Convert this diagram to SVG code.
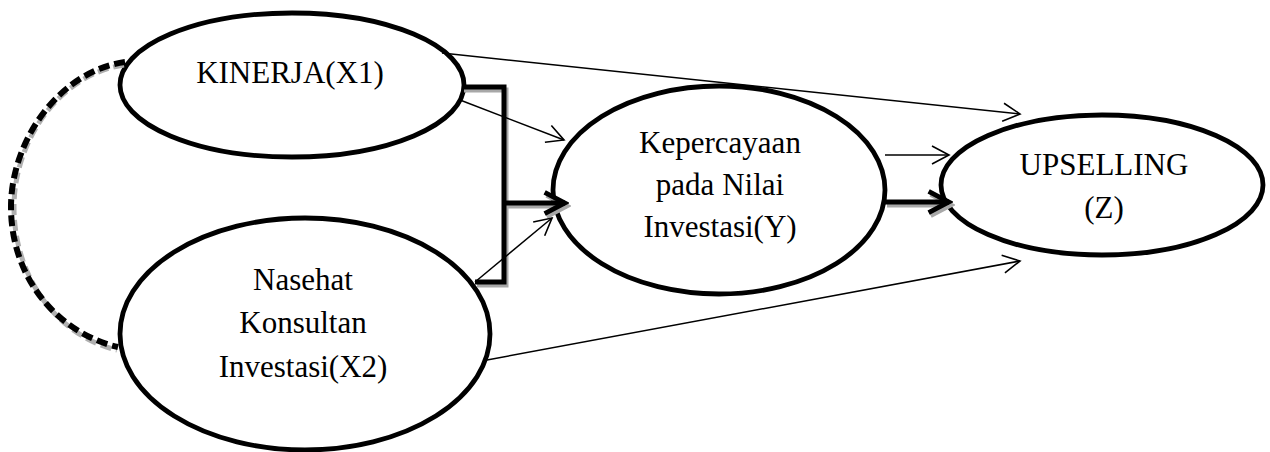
<svg xmlns="http://www.w3.org/2000/svg" width="1270" height="452" viewBox="0 0 1270 452">
<style>
.node{fill:#fff;stroke:#000;stroke-width:4.8}
.lbl{font-family:"Liberation Serif","Times New Roman",serif;font-size:31px;fill:#000;text-anchor:middle}
.thin{stroke:#000;stroke-width:1.5;fill:none}
.thick{stroke:#000;stroke-width:5;fill:none}
.shadow{stroke:#a8a8a8;stroke-width:5;fill:none}
</style>
<defs>
<marker id="open" markerUnits="userSpaceOnUse" markerWidth="24" markerHeight="24" viewBox="-20 -12 24 24" refX="0" refY="0" orient="auto">
<path d="M-17,-9 L0,0 L-17,9" fill="none" stroke="#000" stroke-width="1.6"/>
</marker>
<marker id="bold" markerUnits="userSpaceOnUse" markerWidth="30" markerHeight="30" viewBox="-24 -14 28 28" refX="0" refY="0" orient="auto">
<path d="M-19,-10 L0,0 L-19,10" fill="none" stroke="#000" stroke-width="4.5"/>
</marker>
<marker id="boldS" markerUnits="userSpaceOnUse" markerWidth="30" markerHeight="30" viewBox="-24 -14 28 28" refX="0" refY="0" orient="auto">
<path d="M-19,-10 L0,0 L-19,10" fill="none" stroke="#a8a8a8" stroke-width="4.5"/>
</marker>
</defs>
<g id="x1">
<ellipse class="node" cx="292" cy="85" rx="172" ry="72"/>
<text class="lbl" x="290" y="83">KINERJA(X1)</text>
</g>
<g id="x2">
<ellipse class="node" cx="305" cy="334" rx="185" ry="116"/>
<text class="lbl" x="303" y="290">Nasehat</text>
<text class="lbl" x="303" y="333">Konsultan</text>
<text class="lbl" x="303" y="377">Investasi(X2)</text>
</g>
<g id="y">
<ellipse class="node" cx="719" cy="190" rx="166" ry="104"/>
<text class="lbl" x="720" y="153">Kepercayaan</text>
<text class="lbl" x="720" y="195">pada Nilai</text>
<text class="lbl" x="720" y="237">Investasi(Y)</text>
</g>
<g id="z">
<ellipse class="node" cx="1102" cy="185" rx="161" ry="70"/>
<text class="lbl" x="1104" y="175">UPSELLING</text>
<text class="lbl" x="1104" y="218">(Z)</text>
</g>
<g id="connectors">
<path d="M124,65 C60,74 14,140 14,207 C14,280 60,337 117,350" fill="none" stroke="#b0b0b0" stroke-width="5" stroke-dasharray="11 5"/>
<path d="M125,62 C60,71 11,140 11,207 C11,280 60,334 118,347" fill="none" stroke="#000" stroke-width="6" stroke-dasharray="11 5"/>
<path class="shadow" d="M464,90 H506 V285 H477"/>
<path class="shadow" d="M508,206 H567" marker-end="url(#boldS)"/>
<path class="shadow" d="M887,205 H951" marker-end="url(#boldS)"/>
<path class="thick" d="M462,87 H504 V282 H475"/>
<path class="thick" d="M504,203 H565" marker-end="url(#bold)"/>
<path class="thick" d="M885,202 H949" marker-end="url(#bold)"/>
<line class="thin" x1="442" y1="53" x2="1020" y2="114" marker-end="url(#open)"/>
<line class="thin" x1="460" y1="100" x2="564" y2="140" marker-end="url(#open)"/>
<line class="thin" x1="475" y1="282" x2="552" y2="218" marker-end="url(#open)"/>
<line class="thin" x1="885" y1="155" x2="949" y2="155" marker-end="url(#open)"/>
<line class="thin" x1="487" y1="360" x2="1020" y2="261" marker-end="url(#open)"/>
</g>
</svg>
